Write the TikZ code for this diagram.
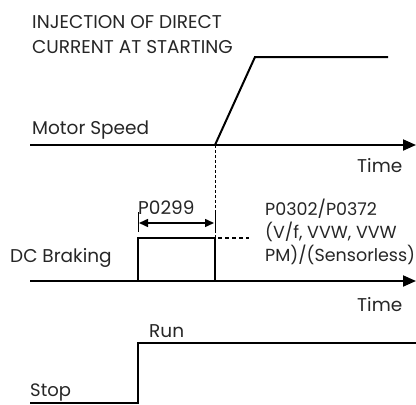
\documentclass[tikz,border=0pt]{standalone}
\usepackage{fontspec}
\setmainfont{Poppins}
\usetikzlibrary{arrows.meta}
\begin{document}
\begin{tikzpicture}[x=1pt,y=-1pt,
  lbl/.style={anchor=base west,inner sep=0pt,font=\fontsize{18.5}{22}\selectfont,text=black!85},
  lbls/.style={lbl,font=\fontsize{17.5}{21}\selectfont},
  axis/.style={line width=2pt,-{Triangle[length=13pt,width=11pt]}},
  sig/.style={line width=2pt},
  dim/.style={line width=1.5pt,{Triangle[length=9pt,width=8pt]}-{Triangle[length=9pt,width=8pt]}},
  thin/.style={line width=1pt}]
\useasboundingbox (0,0) rectangle (416,405);
% titles
\node[lbl] (t1) at (32,28) {INJECTION OF DIRECT};
\node[lbl] (t2) at (32,53) {CURRENT AT STARTING};
% motor speed
\node[lbl] (ms) at (32,134) {Motor Speed};
\coordinate (a1s) at (30,145);
\coordinate (a1e) at (416,145);
\draw[axis] (a1s) -- (a1e);
\node[lbl] (time1) at (357,172) {Time};
\coordinate (r0) at (215,145);
\coordinate (r1) at (255,57);
\coordinate (r2) at (388,57);
\draw[sig] (r0) -- (r1) -- (r2);
% DC braking
\node[lbl] (dcb) at (10,262) {DC Braking};
\coordinate (a2s) at (30,281);
\coordinate (a2e) at (416,281);
\draw[axis] (a2s) -- (a2e);
\node[lbl] (time2) at (357,311) {Time};
\coordinate (b0) at (138,281);
\coordinate (b1) at (138,238);
\coordinate (b2) at (215,238);
\coordinate (b3) at (215,281);
\draw[sig] (b0) -- (b1) -- (b2) -- (b3);
\draw[thin,dash pattern=on 3pt off 2pt] (r0) -- (b3);
\coordinate (d0) at (218,238);
\coordinate (d1) at (249,238);
\draw[line width=1.5pt,dash pattern=on 4pt off 3pt] (d0) -- (d1);
% dimension
\coordinate (k0a) at (138,212);
\coordinate (k0b) at (138,232);
\coordinate (k1a) at (215,212);
\coordinate (k1b) at (215,232);
\draw[thin] (k0a) -- (k0b);
\draw[thin] (k1a) -- (k1b);
\coordinate (m0) at (139,223);
\coordinate (m1) at (214,223);
\draw[dim] (m0) -- (m1);
\node[lbl] (p299) at (138,214) {P0299};
\node[lbls] (p1) at (265,215) {P0302/P0372};
\node[lbls] (p2) at (265,238) {(V/f, VVW, VVW};
\node[lbls] (p3) at (265,261) {PM)/(Sensorless)};
% run/stop
\coordinate (s0) at (30,403);
\coordinate (s1) at (138,403);
\coordinate (s2) at (138,343);
\coordinate (s3) at (416,343);
\draw[sig] (s0) -- (s1) -- (s2) -- (s3);
\node[lbl] (run) at (149,337) {Run};
\node[lbl,font=\fontsize{18}{21}\selectfont] (stop) at (30,396) {Stop};
\end{tikzpicture}
\end{document}
